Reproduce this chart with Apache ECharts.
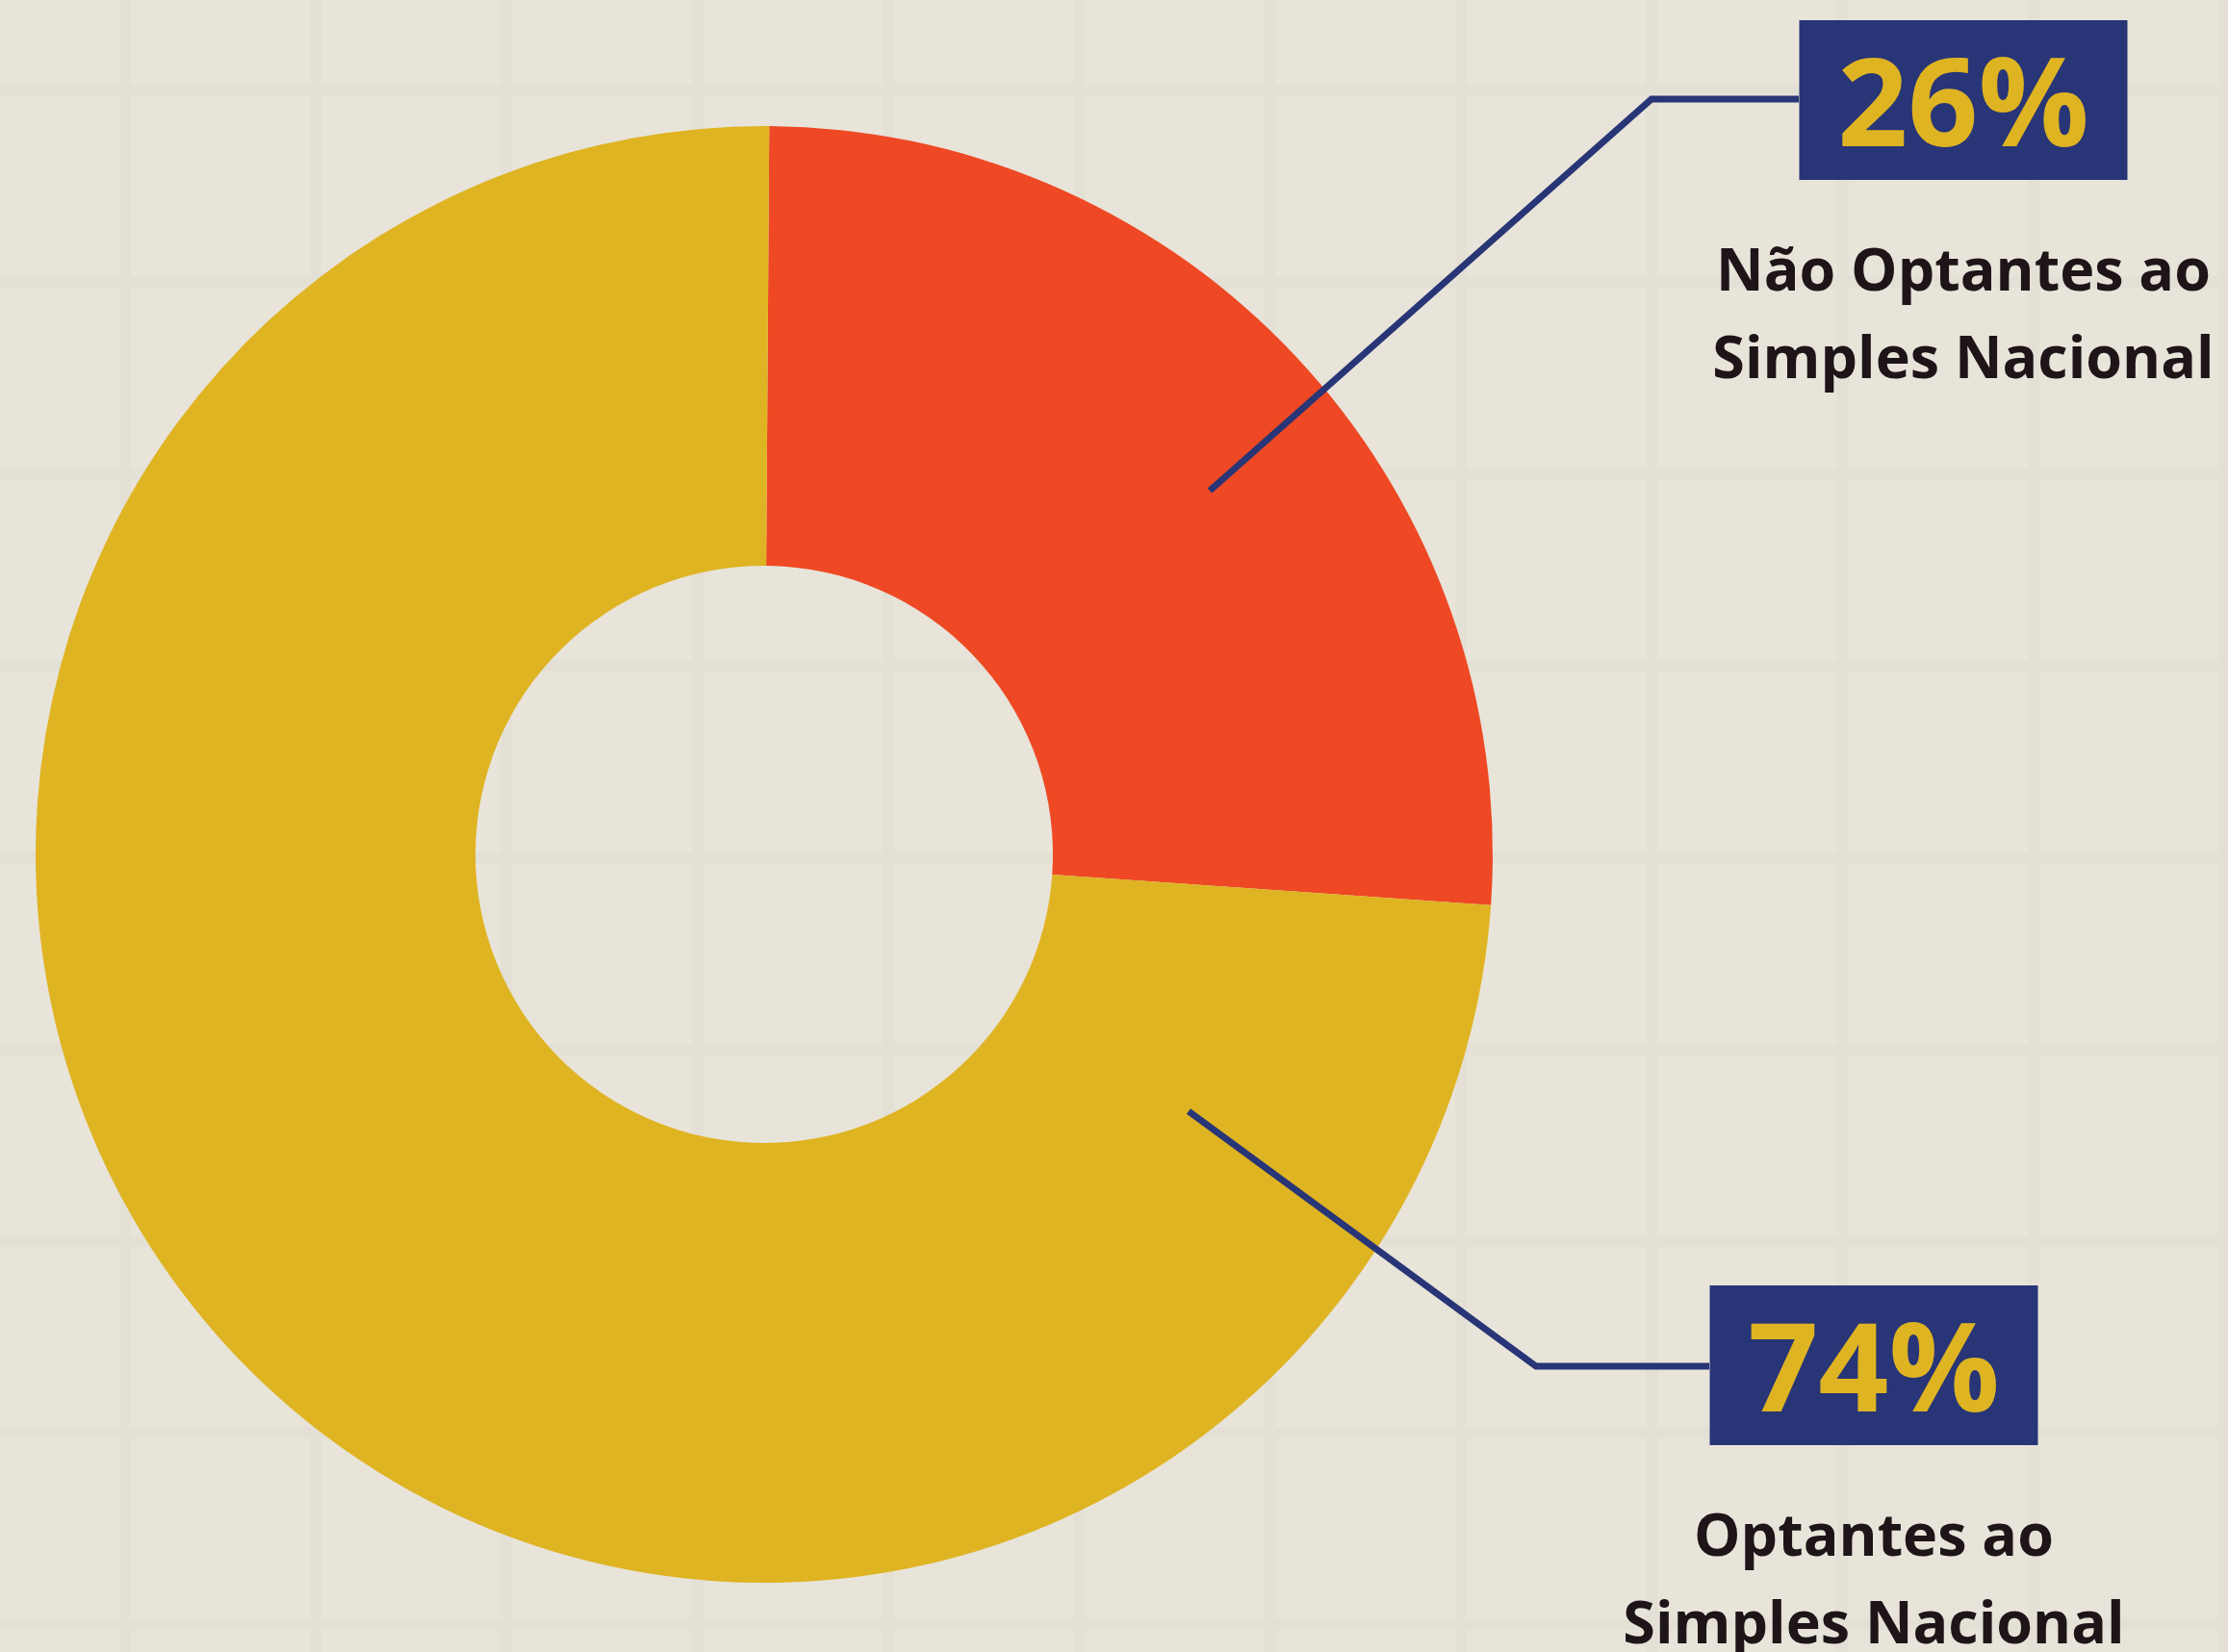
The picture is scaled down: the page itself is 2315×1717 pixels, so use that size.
<!DOCTYPE html>
<html lang="pt">
<head>
    <meta charset="UTF-8">
    <title>Optantes ao Simples Nacional</title>
    <style>
        html, body {
            margin: 0;
            padding: 0;
            width: 2315px;
            height: 1717px;
            overflow: hidden;
        }
        body {
            background-color: #e8e4da;
            background-image: linear-gradient(to right, #e4e0d6 12px, transparent 12px),
                              linear-gradient(to bottom, #e4e0d6 12px, transparent 12px);
            background-size: 198.3px 199.3px;
            background-position: 124px 88px;
        }
    </style>
</head>
<body>
<div id="main" style="width: 2315px;height:1717px;"></div>

<script src="https://cdn.jsdelivr.net/npm/echarts@6/dist/echarts.min.js"></script>
<script>
    // dados
    const categorias = ['Não Optantes ao\nSimples Nacional', 'Optantes ao\nSimples Nacional'];
    const valores = [26, 74];
    const cores = ['#ee4924', '#dfb423'];

    // posição das caixas de rótulo e das linhas-guia (px)
    const NAVY = '#283576';
    const caixas = [
        {x: 2040, top: 21, line: [[1257, 510], [1716, 103], [1869, 103]]},
        {x: 1947, top: 1336, line: [[1235, 1155], [1596, 1420], [1776, 1420]]}
    ];

    const pieBase = {
        type: 'pie',
        center: [794, 888],
        radius: [300, 757],
        startAngle: 89.6,
        clockwise: true,
        avoidLabelOverlap: false,
        silent: true,
        emphasis: {disabled: true}
    };

    let chart = echarts.init(document.getElementById('main'), null, {renderer: 'canvas'});

    const option = {
        backgroundColor: 'transparent',
        animation: false,
        series: [
            // fatias
            Object.assign({}, pieBase, {
                z: 2,
                label: {show: false},
                labelLine: {show: false},
                data: categorias.map((n, i) => ({
                    name: n,
                    value: valores[i],
                    itemStyle: {color: cores[i]}
                }))
            }),
            // rótulos e linhas-guia por cima das fatias
            Object.assign({}, pieBase, {
                z: 5,
                itemStyle: {color: 'rgba(0,0,0,0)'},
                label: {
                    show: true,
                    position: 'outside',
                    align: 'center',
                    fontFamily: 'Open Sans',
                    formatter: function (p) {
                        let linhas = p.name.split('\n').map(t => '{desc|' + t + '}');
                        return '{pct|' + p.value + '%}\n{gap| }\n' + linhas.join('\n');
                    },
                    rich: {
                        pct: {
                            fontFamily: 'Open Sans',
                            fontSize: 128,
                            fontWeight: 'bold',
                            color: '#dfb423',
                            backgroundColor: NAVY,
                            width: 341,
                            height: 142,
                            padding: [24, 0, 0, 0],
                            lineHeight: 166,
                            align: 'center'
                        },
                        gap: {
                            fontSize: 10,
                            lineHeight: 52
                        },
                        desc: {
                            fontFamily: 'Open Sans',
                            fontSize: 61,
                            fontWeight: 'bold',
                            color: '#1d1518',
                            lineHeight: 91,
                            align: 'center'
                        }
                    }
                },
                labelLine: {
                    show: true,
                    showAbove: true,
                    smooth: false,
                    lineStyle: {color: NAVY, width: 7}
                },
                labelLayout: function (params) {
                    let c = caixas[params.dataIndex];
                    return {
                        x: c.x,
                        y: c.top,
                        align: 'center',
                        verticalAlign: 'top',
                        labelLinePoints: c.line
                    };
                },
                data: categorias.map((n, i) => ({name: n, value: valores[i]}))
            })
        ]
    };

    chart.setOption(option);
</script>
</body>
</html>
